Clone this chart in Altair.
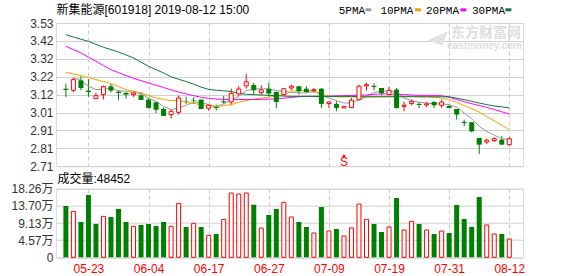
import altair as alt
import pandas as pd

# ---------------- data ----------------
dates = ["05-20", "05-21", "05-22", "05-23", "05-24", "05-27", "05-28", "05-29", "05-30", "05-31",
         "06-03", "06-04", "06-05", "06-06", "06-10", "06-11", "06-12", "06-13", "06-14", "06-17",
         "06-18", "06-19", "06-20", "06-21", "06-24", "06-25", "06-26", "06-27", "06-28", "07-01",
         "07-02", "07-03", "07-04", "07-05", "07-08", "07-09", "07-10", "07-11", "07-12", "07-15",
         "07-16", "07-17", "07-18", "07-19", "07-22", "07-23", "07-24", "07-25", "07-26", "07-29",
         "07-30", "07-31", "08-01", "08-02", "08-05", "08-06", "08-07", "08-08", "08-09", "08-12"]

opens = [3.154, 3.145, 3.202, 3.143, 3.097, 3.120, 3.168, 3.137, 3.130, 3.120,
         3.116, 3.092, 3.076, 3.038, 3.006, 3.019, 3.084, 3.088, 3.092, 3.042,
         3.050, 3.082, 3.078, 3.124, 3.170, 3.175, 3.131, 3.154, 3.135, 3.120,
         3.158, 3.168, 3.154, 3.143, 3.154, 3.069, 3.067, 3.044, 3.046, 3.091,
         3.170, 3.170, 3.158, 3.120, 3.149, 3.053, 3.069, 3.067, 3.061, 3.078,
         3.059, 3.055, 3.038, 2.964, 2.962, 2.872, 2.849, 2.857, 2.862, 2.834]
highs = [3.183, 3.215, 3.225, 3.210, 3.131, 3.173, 3.181, 3.145, 3.133, 3.139,
         3.135, 3.101, 3.082, 3.048, 3.032, 3.114, 3.109, 3.105, 3.092, 3.063,
         3.063, 3.114, 3.154, 3.168, 3.238, 3.187, 3.173, 3.187, 3.139, 3.158,
         3.177, 3.168, 3.168, 3.158, 3.158, 3.078, 3.082, 3.053, 3.101, 3.177,
         3.187, 3.187, 3.158, 3.164, 3.158, 3.078, 3.092, 3.078, 3.078, 3.082,
         3.092, 3.063, 3.038, 2.977, 2.962, 2.872, 2.868, 2.876, 2.882, 2.876]
lows = [3.107, 3.135, 3.145, 3.107, 3.097, 3.093, 3.133, 3.090, 3.097, 3.107,
        3.090, 3.040, 3.015, 2.998, 2.983, 3.006, 3.067, 3.067, 3.038, 3.029,
        3.029, 3.067, 3.059, 3.114, 3.154, 3.120, 3.120, 3.109, 3.044, 3.114,
        3.145, 3.120, 3.130, 3.130, 3.044, 3.044, 3.025, 3.044, 3.046, 3.086,
        3.143, 3.145, 3.116, 3.116, 3.040, 3.025, 3.059, 3.044, 3.048, 3.044,
        3.044, 3.044, 2.977, 2.939, 2.905, 2.781, 2.838, 2.849, 2.834, 2.828]
closes = [3.147, 3.206, 3.158, 3.135, 3.114, 3.166, 3.143, 3.130, 3.120, 3.130,
          3.090, 3.044, 3.034, 2.998, 3.025, 3.101, 3.082, 3.085, 3.038, 3.059,
          3.044, 3.076, 3.128, 3.152, 3.194, 3.145, 3.147, 3.126, 3.078, 3.154,
          3.168, 3.139, 3.135, 3.148, 3.067, 3.078, 3.044, 3.053, 3.088, 3.168,
          3.177, 3.164, 3.128, 3.145, 3.044, 3.059, 3.082, 3.061, 3.067, 3.059,
          3.078, 3.044, 3.006, 2.958, 2.910, 2.834, 2.859, 2.868, 2.834, 2.868]

# volume in 万 (10k shares)
volumes = [13.65, 12.23, 9.40, 16.58, 8.86, 10.90, 10.73, 12.85, 9.40, 8.24,
           8.60, 8.86, 8.33, 9.40, 8.24, 14.36, 8.07, 9.04, 8.07, 5.85,
           6.20, 10.10, 17.11, 16.84, 17.11, 14.00, 7.80, 11.26, 12.85, 14.63,
           10.73, 9.40, 8.07, 6.47, 13.38, 7.00, 7.53, 5.67, 7.80, 14.18,
           10.10, 8.86, 6.74, 8.07, 15.78, 7.27, 9.57, 8.86, 7.27, 6.20,
           7.00, 6.47, 13.92, 10.19, 8.07, 16.04, 8.60, 6.20, 6.20, 4.85]
# 1 = red (up) volume bar, 0 = green
volume_up = [0, 1, 0, 0, 0, 1, 0, 0, 0, 1,
             0, 0, 0, 0, 1, 1, 0, 1, 0, 1,
             0, 1, 1, 1, 1, 0, 1, 0, 0, 1,
             1, 0, 0, 1, 0, 1, 0, 1, 1, 1,
             1, 0, 0, 1, 0, 1, 1, 0, 1, 0,
             1, 0, 0, 0, 0, 0, 1, 1, 0, 1]

ma5 = [None, 3.218, 3.200, 3.168, 3.149, 3.149, 3.158, 3.143, 3.139, 3.133,
       3.124, 3.101, 3.082, 3.053, 3.034, 3.044, 3.059, 3.078, 3.076, 3.063,
       3.053, 3.067, 3.091, 3.110, 3.143, 3.152, 3.154, 3.152, 3.143, 3.139,
       3.133, 3.130, 3.130, 3.139, 3.120, 3.101, 3.086, 3.072, 3.072, 3.091,
       3.110, 3.133, 3.139, 3.143, 3.130, 3.101, 3.086, 3.076, 3.072, 3.067,
       3.067, 3.063, 3.048, 3.015, 2.983, 2.939, 2.910, 2.888, 2.868, 2.863]
ma10 = [3.248, 3.238, 3.229, 3.218, 3.206, 3.195, 3.183, 3.166, 3.149, 3.140,
        3.130, 3.115, 3.101, 3.093, 3.086, 3.086, 3.076, 3.070, 3.063, 3.057,
        3.052, 3.057, 3.063, 3.076, 3.086, 3.095, 3.100, 3.105, 3.112, 3.120,
        3.139, 3.143, 3.143, 3.143, 3.120, 3.114, 3.107, 3.107, 3.107, 3.107,
        3.107, 3.107, 3.107, 3.110, 3.110, 3.110, 3.110, 3.108, 3.107, 3.105,
        3.100, 3.092, 3.075, 3.058, 3.040, 3.020, 2.995, 2.970, 2.945, 2.920]
ma20 = [3.397, 3.378, 3.359, 3.335, 3.311, 3.287, 3.263, 3.246, 3.229, 3.214,
        3.200, 3.187, 3.174, 3.161, 3.147, 3.135, 3.124, 3.114, 3.105, 3.099,
        3.095, 3.093, 3.092, 3.092, 3.092, 3.092, 3.093, 3.094, 3.096, 3.100,
        3.104, 3.108, 3.110, 3.110, 3.110, 3.110, 3.113, 3.114, 3.116, 3.116,
        3.118, 3.122, 3.124, 3.124, 3.122, 3.120, 3.118, 3.116, 3.116, 3.116,
        3.114, 3.105, 3.092, 3.080, 3.068, 3.058, 3.047, 3.035, 3.022, 3.009]
ma30 = [3.463, 3.450, 3.437, 3.425, 3.408, 3.391, 3.378, 3.364, 3.347, 3.330,
        3.306, 3.282, 3.263, 3.244, 3.222, 3.208, 3.195, 3.180, 3.163, 3.150,
        3.145, 3.142, 3.138, 3.128, 3.122, 3.120, 3.118, 3.116, 3.114, 3.112,
        3.110, 3.110, 3.110, 3.110, 3.110, 3.110, 3.110, 3.110, 3.110, 3.108,
        3.108, 3.108, 3.108, 3.108, 3.108, 3.108, 3.108, 3.108, 3.108, 3.108,
        3.108, 3.108, 3.100, 3.092, 3.082, 3.072, 3.063, 3.055, 3.050, 3.044]

ma_names = ["5PMA", "10PMA", "20PMA", "30PMA"]
ma_colors = ["#9a9a9a", "#f5a300", "#ff00ff", "#0a7a3c"]

price_ticks = [2.71, 2.8125, 2.915, 3.0175, 3.12, 3.2225, 3.325, 3.4275, 3.53]
price_labels = ["2.71", "2.81", "2.91", "3.01", "3.12", "3.22", "3.32", "3.42", "3.53"]
vol_ticks = [0, 4.565, 9.13, 13.695, 18.26]
vol_labels = ["0", "4.57万", "9.13万", "13.70万", "18.26万"]
x_labels = ["05-23", "06-04", "06-17", "06-27", "07-09", "07-19", "07-31", "08-12"]

title_text = "新集能源[601918] 2019-08-12 15:00"
volume_text = "成交量:48452"
signal_dates = ["07-11"]

RED = "#ff0000"
GREEN = "#008000"
FONT = "Liberation Sans, Noto Sans CJK SC"

# ---------------- tables ----------------
n = len(dates)
df = pd.DataFrame({"i": list(range(n)), "date": dates, "open": opens, "high": highs,
                   "low": lows, "close": closes, "vol": volumes, "vup": volume_up})
df["up"] = (df["close"] >= df["open"]).astype(int)

ma_rows = []
for name, series in zip(ma_names, [ma5, ma10, ma20, ma30]):
    for k, v in enumerate(series):
        if v is not None:
            ma_rows.append({"i": k, "ma": name, "v": v})
ma_df = pd.DataFrame(ma_rows)

tick_idx = [dates.index(d) for d in x_labels]
date_js = "[" + ",".join("'%s'" % d for d in dates) + "]"
price_js = "[" + ",".join("'%s'" % s for s in price_labels) + "]"
vol_js = "[" + ",".join("'%s'" % s for s in vol_labels) + "]"

W, HP, HV = 467, 143.3, 68.6
xs = alt.Scale(domain=[-0.65, n + 0.16], nice=False, zero=False)
yps = alt.Scale(domain=[price_ticks[0], price_ticks[-1]], nice=False, zero=False)
yvs = alt.Scale(domain=[vol_ticks[0], vol_ticks[-1]], nice=False, zero=True)

x_axis_price = alt.Axis(values=tick_idx, labels=False, ticks=False, domain=False, title=None,
                        grid=True, gridColor="#cccccc", gridDash=[4, 3], gridWidth=1)
x_axis_vol = alt.Axis(values=tick_idx, labelExpr=date_js + "[datum.value]", ticks=False,
                      domain=False, title=None, grid=True, gridColor="#cccccc", gridDash=[4, 3],
                      labelColor=RED, labelFontSize=12, labelPadding=6, labelFont=FONT,
                      labelFlush=False, labelOverlap=False)
y_axis_price = alt.Axis(values=price_ticks,
                        labelExpr=price_js + "[round((datum.value-%s)/%s)]" % (price_ticks[0], price_ticks[1] - price_ticks[0]),
                        ticks=False, domain=False, title=None, grid=True, gridColor="#d0d0d0",
                        labelColor="#333333", labelFontSize=12, labelPadding=3, labelFont=FONT,
                        labelOverlap=False, labelFlush=False)
y_axis_vol = alt.Axis(values=vol_ticks,
                      labelExpr=vol_js + "[round(datum.value/%s)]" % vol_ticks[1],
                      ticks=False, domain=False, title=None, grid=True, gridColor="#d0d0d0",
                      labelColor="#333333", labelFontSize=12, labelPadding=3, labelFont=FONT,
                      labelOverlap=False, labelFlush=False)

base = alt.Chart(df)
X = alt.X("i:Q", scale=xs, axis=x_axis_price)


def YP(field):
    return alt.Y(field, scale=yps, axis=y_axis_price)


wick_up = base.transform_filter("datum.up == 1").mark_rule(strokeWidth=1, color=RED).encode(
    x=X, y=YP("low:Q"), y2="high:Q")
wick_dn = base.transform_filter("datum.up == 0").mark_rule(strokeWidth=1, color=GREEN).encode(
    x=X, y=YP("low:Q"), y2="high:Q")
up_body = base.transform_filter("datum.up == 1").mark_bar(
    size=4, fill="white", stroke=RED, strokeWidth=1).encode(
    x=X, y=YP("open:Q"), y2="close:Q")
dn_body = base.transform_filter("datum.up == 0").mark_bar(
    size=5, color=GREEN).encode(x=X, y=YP("open:Q"), y2="close:Q")

ma_layers = []
for name, col in zip(ma_names, ma_colors):
    ma_layers.append(alt.Chart(ma_df).transform_filter("datum.ma == '%s'" % name)
                     .mark_line(strokeWidth=1, color=col)
                     .encode(x=X, y=YP("v:Q"), order="i:Q"))

one = pd.DataFrame({"a": [0]})
extent = alt.Chart(one).mark_rule(opacity=0, strokeOpacity=0).encode(
    x=alt.value(-55.3), y=alt.value(-21.7), y2=alt.value(0))
title = alt.Chart(one).mark_text(text=title_text, align="left", baseline="alphabetic",
                                 fontSize=12, font=FONT, color="#000000").encode(
    x=alt.value(0.5), y=alt.value(-9))

legend_layers = []
leg_x = [282.7, 324.4, 370.0, 416.0]
dash_x = [309.4, 359.0, 404.4, 449.4]
for name, col, lx, dx in zip(ma_names, ma_colors, leg_x, dash_x):
    legend_layers.append(alt.Chart(one).mark_text(text=name, align="left", baseline="alphabetic",
                                                  fontSize=11, font="Liberation Mono", color="#000000").encode(
        x=alt.value(lx), y=alt.value(-9.5)))
    legend_layers.append(alt.Chart(one).mark_rule(strokeWidth=3, color=col).encode(
        x=alt.value(dx), x2=alt.value(dx + 6), y=alt.value(-13.2)))

wm1 = alt.Chart(one).mark_text(text="东方财富网", align="right", baseline="alphabetic", fontSize=14,
                               fontWeight="bold", font="Noto Sans CJK SC", color="#dedede").encode(
    x=alt.value(465), y=alt.value(13.5))
wm2 = alt.Chart(one).mark_text(text="eastmoney.com", align="right", baseline="alphabetic", fontSize=10,
                               fontWeight="bold", font="Liberation Sans", color="#dedede").encode(
    x=alt.value(466), y=alt.value(25.5))
wm3 = alt.Chart(one).mark_text(text="◢", align="center", baseline="middle", fontSize=20,
                               font="DejaVu Sans", color="#e2e2e2", angle=20).encode(
    x=alt.value(382), y=alt.value(12))

sig_df = pd.DataFrame({"i": [dates.index(d) for d in signal_dates]})
sig_s = alt.Chart(sig_df).mark_text(text="S", fontSize=12, font=FONT, color=RED,
                                    baseline="alphabetic").encode(x=X, y=alt.value(143))
sig_t = alt.Chart(sig_df).mark_point(shape="triangle-up", filled=True, size=14, color=RED,
                                     opacity=1).encode(x=X, y=alt.value(132.5))

price = alt.layer(extent, wm3, wm1, wm2, wick_up, wick_dn, *ma_layers, up_body, dn_body, sig_s, sig_t,
                  title, *legend_layers).properties(width=W, height=HP)

XV = alt.X("i:Q", scale=xs, axis=x_axis_vol)
vbase = alt.Chart(df)
v_dn = vbase.transform_filter("datum.vup == 0").mark_bar(size=5, color=GREEN).encode(
    x=XV, y=alt.Y("vol:Q", scale=yvs, axis=y_axis_vol))
v_up = vbase.transform_filter("datum.vup == 1").mark_bar(size=4, fill="white", stroke=RED,
                                                        strokeWidth=1).encode(
    x=XV, y=alt.Y("vol:Q", scale=yvs, axis=y_axis_vol))
vtext = alt.Chart(one).mark_text(text=volume_text, align="left", baseline="alphabetic",
                                 fontSize=12, font=FONT, color="#000000").encode(
    x=alt.value(1.5), y=alt.value(-5.5))
vol = alt.layer(v_dn, v_up, vtext).properties(width=W, height=HV)

chart = alt.vconcat(price, vol, spacing=21.7, bounds="flush").properties(
    padding={"left": 0, "top": 0, "right": 5, "bottom": 2},
    background="white",
).configure_view(stroke="#8c8c8c", strokeWidth=1).configure(font=FONT)

chart.save("out.html", embed_options={"renderer": "svg", "actions": False})
